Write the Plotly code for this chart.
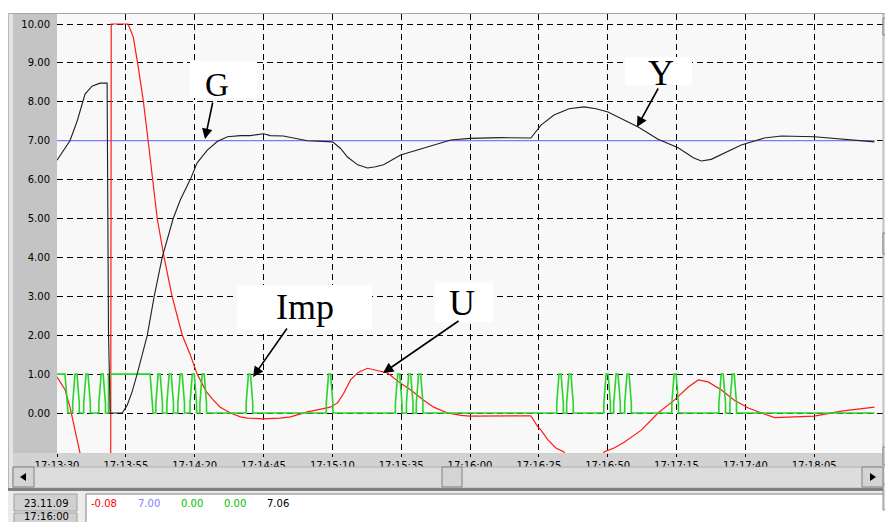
import plotly.graph_objects as go
import pandas as pd

# ---------------- data (seconds after 17:13:30, values) ----------------
BASE = pd.Timestamp("2009-11-23 17:13:30")

y_t = [0, 2.2, 4.7, 7.3, 10.2, 12.7, 15.6, 18.2, 18.4, 18.7, 19.3, 23.7, 25.5, 27.3,
       29.1, 30.9, 32.8, 35.3, 38.2, 42.2, 44.8, 48.4, 50.9, 54.6, 58.2, 61.9, 66.6,
       70.2, 75.0, 77.5, 82.2, 91.0, 100.1, 103.0, 105.5, 109.2, 112.8, 115.7, 118.6,
       124.8, 133.2, 143.0, 150.0, 161.2, 172.1, 175.8, 180.5, 186.0, 191.4, 195.8,
       200.1, 211.1, 218.3, 225.6, 231.1, 234.0, 237.6, 241.3, 248.5, 256.9, 263.1,
       275.1, 284.9, 296.9]
y_v = [6.50, 6.75, 7.0, 7.5, 8.2, 8.4, 8.48, 8.48, 6.4, 2.1, 0.0, 0.0, 0.2, 0.55,
       1.0, 1.5, 2.0, 3.0, 4.0, 5.0, 5.48, 6.0, 6.43, 6.76, 6.98, 7.1, 7.13,
       7.13, 7.18, 7.13, 7.12, 7.0, 6.97, 6.8, 6.58, 6.38, 6.3, 6.33, 6.38,
       6.63, 6.81, 7.02, 7.06, 7.08, 7.07, 7.4, 7.66, 7.82, 7.87, 7.82,
       7.74, 7.35, 7.04, 6.82, 6.56, 6.48, 6.52, 6.65, 6.89, 7.07, 7.12,
       7.1, 7.04, 6.97]

u_t = [0, 1.5, 2.9, 4.7, 6.6, 8.4, 9.8, 19.5, 19.7, 25.8, 27.7, 29.5, 31.3, 33.1,
       34.9, 36.4, 38.9, 41.8, 45.5, 48.4, 50.9, 54.2, 56.8, 59.3, 63.0, 66.6, 69.1,
       75.0, 81.1, 84.8, 91.0, 95.7, 99.3, 101.9, 104.1, 106.6, 109.5, 112.8, 116.4,
       120.1, 124.1, 128.5, 133.2, 136.8, 141.9, 146.7, 150.0, 172.1, 174.7, 175.8,
       178.3, 181.2, 184.1, 186.7, 197.6, 198.7, 202.3, 206.0, 212.2, 218.3, 224.2,
       229.3, 232.9, 236.5, 241.3, 246.0, 251.1, 255.8, 260.6, 275.1, 284.9, 296.9]
u_v = [0.93, 0.75, 0.6, 0.16, -0.44, -0.95, -1.5, -1.5, 10.0, 10.0, 9.67, 8.9, 8.05, 7.0,
       5.9, 5.0, 4.0, 3.0, 2.0, 1.5, 1.0, 0.55, 0.33, 0.15, 0.0, -0.1, -0.13,
       -0.15, -0.13, -0.1, 0.03, 0.1, 0.15, 0.26, 0.5, 0.85, 1.05, 1.15, 1.1,
       1.03, 0.8, 0.59, 0.33, 0.15, 0.0, -0.06, -0.08, -0.07, -0.36, -0.44,
       -0.69, -0.9, -1.0, -1.3, -1.3, -1.0, -0.9, -0.75, -0.44, 0.0, 0.33,
       0.67, 0.85, 0.8, 0.59, 0.33, 0.13, 0.0, -0.12, -0.08, 0.05, 0.15]

g_t = [0, 296.9]
g_v = [7.0, 7.0]

imp_high = [(0, 2.9), (18.7, 33.8)]          # intervals where Imp stays at 1
imp_fall = 1.1                               # fall time after a high interval (s)
imp_pulses = [6.9, 10.9, 16.4, 37.1, 41.1, 45.1, 49.5, 53.1, 69.9, 99.0, 124.1,
              128.1, 131.7, 182.7, 186.3, 199.8, 203.4, 207.4, 224.5, 241.6, 245.6]
imp_end = 296.9

y_ticks = [0, 1, 2, 3, 4, 5, 6, 7, 8, 9, 10]
readout_date = "23.11.09"
readout_time = "17:16:00"
readout_vals = ["-0.08", "7.00", "0.00", "0.00", "7.06"]
readout_cols = ["#ff0000", "#8080ff", "#00c000", "#00c000", "#000000"]
curve_labels = ["G", "Y", "Imp", "U"]

# ---------------- build Imp step polyline ----------------
events = []
for a, b in imp_high:
    events.append((a, "high", b))
for c in imp_pulses:
    events.append((c, "pulse", None))
events.sort()
it, iv = [], []
hw_base, hw_top = 1.2, 0.36
for s, kind, b in events:
    if kind == "high":
        if it and it[-1] < s:
            it += [s]; iv += [0]
        it += [s, b, b + imp_fall]; iv += [1, 1, 0]
    else:
        it += [s - hw_base, s - hw_base, s - hw_top, s + hw_top, s + hw_base, s + hw_base]
        iv += [0, 0.25, 1, 1, 0.25, 0]
it.append(imp_end); iv.append(0)


def ts(lst):
    return [BASE + pd.Timedelta(seconds=s) for s in lst]


fig = go.Figure()
fig.add_trace(go.Scatter(x=ts(g_t), y=g_v, mode="lines", line=dict(color="#7b7bff", width=1.2)))
fig.add_trace(go.Scatter(x=ts(u_t), y=u_v, mode="lines", line=dict(color="#ff1a1a", width=1.2)))
fig.add_trace(go.Scatter(x=ts(it), y=iv, mode="lines", line=dict(color="#2ad42a", width=1.6)))
fig.add_trace(go.Scatter(x=ts(y_t), y=y_v, mode="lines", line=dict(color="#202020", width=1.1)))

# ---------------- geometry helpers (screen pixel -> paper) ----------------
OFF = 8                      # page body margin
L, R, T, B = 57, 883, 14, 453  # plot area in screen pixels
W, H = 893 - OFF, 522 - OFF    # figure size


def px(x):
    return (x - L) / (R - L)


def py(y):
    return (B - y) / (B - T)


shapes = []


def rect(x0, y0, x1, y1, fill, line=None, lw=1, layer="below"):
    shapes.append(dict(type="rect", xref="paper", yref="paper",
                       x0=px(x0), x1=px(x1), y0=py(y1), y1=py(y0),
                       fillcolor=fill, line=dict(color=line or fill, width=lw if line else 0),
                       layer=layer))


def hline(x0, x1, y, color, lw=1, layer="below"):
    shapes.append(dict(type="line", xref="paper", yref="paper", x0=px(x0), x1=px(x1),
                       y0=py(y), y1=py(y), line=dict(color=color, width=lw), layer=layer))


def vline(x, y0, y1, color, lw=1, layer="below"):
    shapes.append(dict(type="line", xref="paper", yref="paper", x0=px(x), x1=px(x),
                       y0=py(y0), y1=py(y1), line=dict(color=color, width=lw), layer=layer))


def tri(points, layer="above"):
    path = "M " + " L ".join(f"{px(a)},{py(b)}" for a, b in points) + " Z"
    shapes.append(dict(type="path", xref="paper", yref="paper", path=path,
                       fillcolor="#000000", line=dict(color="#000000", width=0), layer=layer))


# frame and panels
rect(7, 7, 894, 13, "#ffffff")
hline(8, 893, 13.5, "#a8a8a8")
vline(8.5, 13, 490, "#b8b8b8")
rect(13, 14, 57, 453, "#c4c4c4")
rect(13, 453, 883, 467, "#d2d2d2")
# horizontal scrollbar
rect(13, 467, 883, 488, "#dcdcdc", "#b0b0b0", layer="above")
rect(13, 467, 34, 487, "#d4d4d4", "#808080", layer="above")
rect(862, 467, 883, 487, "#d4d4d4", "#808080", layer="above")
rect(442, 467, 462, 487, "#d4d4d4", "#808080", layer="above")
tri([(20, 477), (26, 473), (26, 481)])
tri([(876, 477), (870, 473), (870, 481)])
# vertical scrollbar
rect(883, 14, 894, 467, "#dcdcdc", "#b0b0b0", layer="above")
rect(883, 18, 894, 35, "#d4d4d4", "#808080", layer="above")
rect(883, 233, 894, 254, "#d4d4d4", "#808080", layer="above")
rect(883, 447, 894, 465, "#d4d4d4", "#808080", layer="above")
tri([(891, 24), (888, 28), (894, 28)])
tri([(891, 458), (888, 454), (894, 454)])
# bottom readout panel
rect(8, 488, 893, 491, "#808080", layer="above")
rect(8, 491, 894, 523, "#ececec", layer="above")
rect(14, 494, 77, 511, "#d0d0d0", "#a0a0a0", layer="above")
rect(14, 513, 77, 530, "#d0d0d0", "#a0a0a0", layer="above")
rect(86, 494, 900, 530, "#ffffff", "#808080", layer="above")
rect(883, 484, 894, 510, "#d4d4d4", "#909090", layer="above")
tri([(890, 487), (887, 491), (894, 491)])
tri([(890, 506), (887, 502), (894, 502)])

# white boxes behind the curve labels
label_boxes = [(190, 61, 257, 98), (625, 57, 692, 85), (237, 285, 372, 330), (435, 283, 493, 322)]
for x0, y0, x1, y1 in label_boxes:
    rect(x0, y0, x1, y1, "#ffffff", layer="above")

annotations = []


def text(x, y, s, color="#000000", size=10, family="DejaVu Sans"):
    annotations.append(dict(xref="paper", yref="paper", x=px(x), y=py(y), text=s,
                            showarrow=False, xanchor="center", yanchor="middle",
                            font=dict(family=family, size=size, color=color)))


text(46, 503, readout_date)
text(46, 516, readout_time)
for cx, s, c in zip([104, 149, 192, 234.5, 277.5], readout_vals, readout_cols):
    text(cx, 503, s, c)

# curve labels
for lab, (cx, cy, sz) in zip(curve_labels, [(216.5, 85, 33), (661, 73, 36),
                                            (305, 307, 36), (462, 303, 36)]):
    text(cx, cy, lab, size=sz, family="Liberation Serif")

# arrows
for tx, tyy, ax, ay in [(205, 139, 8, -38), (637, 127, 22, -40),
                        (253, 377, 35, -50), (383, 373, 77, -53)]:
    annotations.append(dict(xref="paper", yref="paper", x=px(tx), y=py(tyy), text="",
                            showarrow=True, ax=ax, ay=ay, arrowhead=2, arrowsize=1.3,
                            arrowwidth=1.6, arrowcolor="#000000", standoff=0))

fig.update_layout(
    width=W, height=H, autosize=False,
    margin=dict(l=L - OFF, r=893 - R, t=T - OFF, b=522 - B, pad=0),
    paper_bgcolor="#e4e4e4", plot_bgcolor="#f7f8f7",
    showlegend=False, hovermode=False,
    shapes=shapes, annotations=annotations,
    xaxis=dict(type="date", range=[BASE, BASE + pd.Timedelta(seconds=300)],
               tick0=BASE, dtick=25000, tickformat="%H:%M:%S",
               showgrid=True, gridcolor="#000000", griddash="6px,4px", gridwidth=1.2,
               zeroline=False, showline=False, ticks="outside", ticklen=3,
               tickcolor="#000000", automargin=False,
               tickfont=dict(family="DejaVu Sans", size=10, color="#000000")),
    yaxis=dict(range=[-1.028, 10.257], tickvals=y_ticks, tickformat=".2f",
               showgrid=True, gridcolor="#000000", griddash="6px,4px", gridwidth=1.2,
               zeroline=False, showline=False, ticks="", ticklabelstandoff=6,
               automargin=False,
               tickfont=dict(family="DejaVu Sans", size=10, color="#000000")),
)

fig.write_html("out.html")
